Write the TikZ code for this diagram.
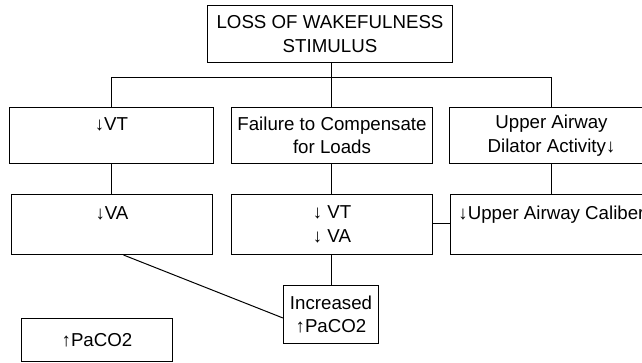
\documentclass[tikz,border=0pt]{standalone}
\usepackage{fontspec}
\setmainfont{Liberation Sans}
\begin{document}
\begin{tikzpicture}[x=1pt,y=-1pt,
  box/.style={draw,line width=1pt,rectangle,inner sep=0pt,align=center,
    font=\fontsize{18.7}{23.5}\selectfont},
  link/.style={line width=1pt}]
\useasboundingbox (0,0) rectangle (642,362);
\clip (0,0) rectangle (642,362);
% top
\node[box,minimum width=245pt,minimum height=57pt] (top) at (330,34) {LOSS OF WAKEFULNESS\\STIMULUS};
% row 1
\node[box,minimum width=204pt,minimum height=56pt] (vt) at (111.5,135.5) {↓VT\\~};
\node[box,minimum width=201pt,minimum height=56pt] (fail) at (332,135.5) {Failure to Compensate\\for Loads};
\node[box,minimum width=204pt,minimum height=56pt] (ua) at (551.5,135.5) {Upper Airway\\Dilator Activity↓};
% row 2
\node[box,minimum width=201pt,minimum height=60pt] (va) at (112,224.5) {↓VA\\~};
\node[box,minimum width=201pt,minimum height=60pt] (vtva) at (332,224.5) {↓ VT\\↓ VA};
\node[box,minimum width=202pt,minimum height=60pt] (cal) at (551.5,224.5) {↓Upper Airway Caliber\\~};
% bottom
\node[box,minimum width=95pt,minimum height=58pt] (inc) at (331,314.5) {Increased\\↑PaCO2};
\node[box,minimum width=151pt,minimum height=43pt] (pac) at (97,340) {↑PaCO2};
% connectors
\coordinate (j) at (331.5,77.5);
\coordinate (l) at (111.5,77.5);
\coordinate (r) at (551.5,77.5);
\coordinate (h) at (0,223.5);
\draw[link] (top.south -| j) -- (j);
\draw[link] (vt.north -| l) -- (l) -- (r) -- (ua.north -| r);
\draw[link] (j) -- (fail.north -| j);
\draw[link] (vt.south -| l) -- (va.north -| l);
\draw[link] (fail.south -| j) -- (vtva.north -| j);
\draw[link] (ua.south -| r) -- (cal.north -| r);
\draw[link] (vtva.east |- h) -- (cal.west |- h);
\draw[link] (vtva.south -| j) -- (inc.north -| j);
\coordinate (d) at ([xshift=112.5pt]va.south west);
\coordinate (e) at (inc.west |- 0,318);
\draw[link] (d) -- (e);
\end{tikzpicture}
\end{document}
